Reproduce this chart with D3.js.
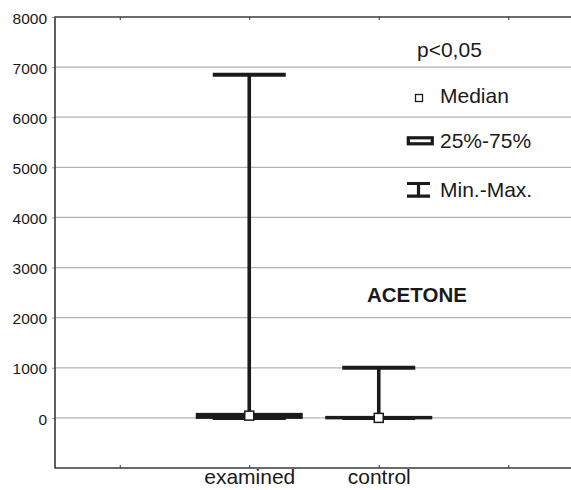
<script src="https://d3js.org/d3.v7.min.js"></script>

<style>
  body { margin: 0; background: #fff; }
  text { font-family: "Liberation Sans", Arial, sans-serif; fill: #1a1a1a; }
</style>

<body>
  <svg id='svg'></svg>
</body>

<script>
  let width = 571;
  let height = 490;

  // data
  let xSlots = ['', 'examined', 'control', ''];
  let groups = ['examined', 'control'];
  let mins = [0, 0];
  let maxs = [6850, 1000];
  let q1s = [10, 0];
  let q3s = [70, 10];
  let medians = [45, 0];
  let yTicks = [0, 1000, 2000, 3000, 4000, 5000, 6000, 7000, 8000];
  let legendLabels = ['Median', '25%-75%', 'Min.-Max.'];

  let svg = d3.select('#svg')
    .attr('width', width)
    .attr('height', height);

  let plotLeft = 55, plotRight = 573, plotTop = 17, plotBottom = 468;

  let y = d3.scaleLinear().domain([-1000, 8000]).range([plotBottom, plotTop]);
  let x = d3.scalePoint().domain(d3.range(xSlots.length)).range([plotLeft, plotRight]).padding(0.5);

  let ink = '#1c1a1a';

  // gridlines
  svg.append('g')
    .selectAll('line')
    .data(yTicks.slice(0, -1))
    .enter()
    .append('line')
    .attr('x1', plotLeft).attr('x2', width)
    .attr('y1', d => y(d)).attr('y2', d => y(d))
    .attr('stroke', '#b3b3b3')
    .attr('stroke-width', 1.2);

  // left axis
  let yAxis = svg.append('g')
    .attr('transform', `translate(${plotLeft},0)`)
    .call(d3.axisLeft(y).tickValues(yTicks).tickFormat(d3.format('d')).tickSize(3).tickPadding(5));
  yAxis.select('.domain').remove();
  yAxis.selectAll('.tick line').attr('stroke', '#999');
  yAxis.selectAll('.tick text')
    .attr('font-size', 15.5)
    .attr('dy', '0.4em')
    .style('font-family', '"Liberation Sans", Arial, sans-serif')
    .attr('fill', '#222');

  // bottom axis
  let xAxis = svg.append('g')
    .attr('transform', `translate(0,${plotBottom})`)
    .call(d3.axisBottom(x).tickFormat(i => xSlots[i]).tickSize(-3).tickSizeOuter(0).tickPadding(0));
  xAxis.select('.domain').remove();
  xAxis.selectAll('.tick line').attr('stroke', '#333');
  xAxis.selectAll('.tick text')
    .attr('font-size', 21)
    .attr('dy', '0.76em')
    .style('font-family', '"Liberation Sans", Arial, sans-serif')
    .attr('fill', '#222');

  // top ticks
  svg.append('g')
    .attr('transform', `translate(0,${plotTop})`)
    .call(d3.axisTop(x).tickFormat('').tickSize(-3).tickSizeOuter(0))
    .call(g => g.select('.domain').remove())
    .selectAll('.tick line').attr('stroke', '#333');

  // frame (left, bottom, top)
  svg.append('path')
    .attr('d', `M${width},${plotTop}H${plotLeft}V${plotBottom}H${width}`)
    .attr('fill', 'none')
    .attr('stroke', '#3a3a3a')
    .attr('stroke-width', 1.6);

  let capW = 73, boxW = 104;

  let plot = svg.append('g')
    .selectAll('g')
    .data(groups)
    .enter()
    .append('g')
    .attr('transform', (d, i) => `translate(${x(i + 1)},0)`);

  // stems
  plot.append('line')
    .attr('y1', (d, i) => y(maxs[i])).attr('y2', (d, i) => y(mins[i]))
    .attr('stroke', ink).attr('stroke-width', 3.6);

  // caps
  plot.append('line')
    .attr('x1', -capW / 2).attr('x2', capW / 2)
    .attr('y1', (d, i) => y(maxs[i])).attr('y2', (d, i) => y(maxs[i]))
    .attr('stroke', ink).attr('stroke-width', 4);
  plot.append('line')
    .attr('x1', -capW / 2).attr('x2', capW / 2)
    .attr('y1', (d, i) => y(mins[i])).attr('y2', (d, i) => y(mins[i]))
    .attr('stroke', ink).attr('stroke-width', 4);

  // boxes
  plot.append('rect')
    .attr('x', -boxW / 2).attr('width', boxW)
    .attr('y', (d, i) => y(q3s[i]))
    .attr('height', (d, i) => y(q1s[i]) - y(q3s[i]))
    .attr('fill', '#fff')
    .attr('stroke', ink).attr('stroke-width', 3);

  // medians
  plot.append('rect')
    .attr('x', -4.5).attr('width', 9)
    .attr('y', (d, i) => y(medians[i]) - 4.5).attr('height', 9)
    .attr('fill', '#fff')
    .attr('stroke', ink).attr('stroke-width', 1.5);

  // legend
  let legend = svg.append('g').style('font-size', '21px');
  legend.append('text').attr('x', 417).attr('y', 56.5).text('p<0,05');

  legend.append('rect')
    .attr('x', 415.5).attr('y', 94.5).attr('width', 7).attr('height', 7)
    .attr('fill', '#fff').attr('stroke', ink).attr('stroke-width', 1.3);
  legend.append('rect')
    .attr('x', 408.3).attr('y', 137.8).attr('width', 24).attr('height', 6)
    .attr('fill', '#fff').attr('stroke', ink).attr('stroke-width', 3.2);
  legend.append('path')
    .attr('d', 'M407,183.5H430M407,196.2H430M418.5,183.5V196.2')
    .attr('fill', 'none').attr('stroke', ink).attr('stroke-width', 3.2);

  legend.selectAll('.lab')
    .data(legendLabels)
    .enter()
    .append('text')
    .attr('class', 'lab')
    .attr('x', 440)
    .attr('y', (d, i) => [103.3, 148.3, 196.7][i])
    .text(d => d);

  svg.append('text')
    .attr('x', 367)
    .attr('y', 302.3)
    .attr('font-size', 20.5)
    .attr('font-weight', 'bold')
    .text('ACETONE');
</script>
